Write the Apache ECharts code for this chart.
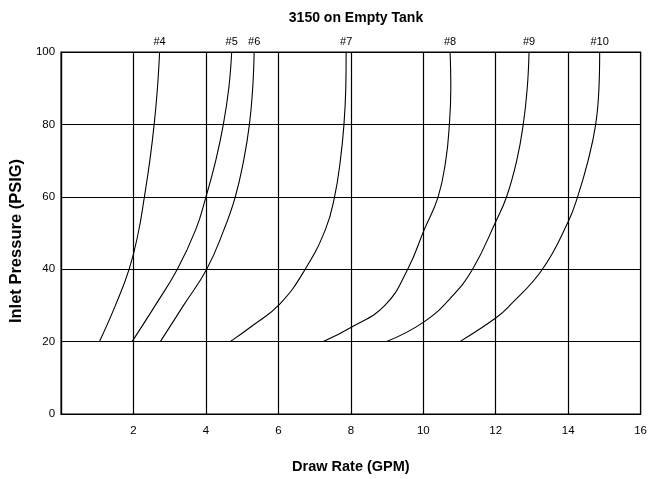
<!DOCTYPE html>
<html>
<head>
<meta charset="utf-8">
<script src="https://cdn.jsdelivr.net/npm/echarts@6/dist/echarts.min.js"></script>
<style>html,body{margin:0;padding:0;background:#fff;}#c{width:650px;height:479px;}</style>
</head>
<body>
<div id="c"></div>
<script>
const title = '3150 on Empty Tank';
const xName = 'Draw Rate (GPM)';
const yName = 'Inlet Pressure (PSIG)';
const seriesNames = ['#4', '#5', '#6', '#7', '#8', '#9', '#10'];
// [draw rate GPM, inlet pressure PSIG]
const curve4 = [[1.06,20],[1.50,30],[1.88,40],[2.13,50],[2.30,60],[2.45,70],[2.57,80],[2.66,90],[2.72,100]];
const curve5 = [[1.96,20],[2.60,30],[3.21,40],[3.72,51],[4.00,60],[4.27,70],[4.48,80],[4.63,90],[4.71,100]];
const curve6 = [[2.74,20],[3.38,30],[4.02,40],[4.50,51],[4.81,60],[5.04,70],[5.20,80],[5.29,90],[5.33,100]];
const curve7 = [[4.67,20],[5.30,24.5],[6.05,30.5],[6.74,40],[7.30,51],[7.55,60],[7.71,70],[7.81,80],[7.86,90],[7.87,100]];
const curve8 = [[7.24,20],[8.00,23.9],[8.94,30],[9.57,40],[10.03,51],[10.41,60],[10.62,70],[10.72,80],[10.76,90],[10.74,100]];
const curve9 = [[8.99,20],[10.00,25.3],[10.74,31.9],[11.36,40],[12.00,53.1],[12.30,60],[12.58,70],[12.76,80],[12.87,90],[12.92,100]];
const curve10 = [[11.01,20],[12.00,26.5],[12.39,30],[13.29,40],[14.00,53.1],[14.26,60],[14.55,70],[14.76,80],[14.85,90],[14.87,100]];
const curves = [curve4, curve5, curve6, curve7, curve8, curve9, curve10];
const xTicks = [0, 2, 4, 6, 8, 10, 12, 14, 16];
const yTicks = [0, 20, 40, 60, 80, 100];

const font = 'Liberation Sans, Arial, sans-serif';
const chart = echarts.init(document.getElementById('c'), null, {renderer: 'canvas'});
const series = curves.map((pts, i) => ({
  type: 'line',
  name: seriesNames[i],
  smooth: 0.45,
  symbol: 'circle',
  symbolSize: 0,
  showSymbol: true,
  itemStyle: {color: '#000'},
  lineStyle: {color: '#000', width: 1.1},
  label: {show: false},
  data: pts.map((p, j) => j === pts.length - 1
    ? {value: p, label: {show: true, position: 'top', distance: 5, formatter: seriesNames[i],
        color: '#000', fontSize: 11, fontFamily: font}}
    : {value: p}),
  z: 3
}));
chart.setOption({
  animation: false,
  backgroundColor: '#fff',
  title: {text: title, left: 351, textAlign: 'center', top: 6,
    textStyle: {fontSize: 14, fontWeight: 'bold', color: '#000', fontFamily: font}},
  grid: {left: 61, right: 9, top: 52, bottom: 59, show: true, borderColor: '#000', borderWidth: 1.2},
  xAxis: {
    type: 'value', min: xTicks[0], max: xTicks[xTicks.length - 1], interval: 2,
    name: xName, nameLocation: 'middle', nameGap: 45,
    nameTextStyle: {fontSize: 14.5, fontWeight: 'bold', color: '#000', fontFamily: font},
    axisLine: {show: true, lineStyle: {color: '#000', width: 1.2}},
    axisTick: {show: false},
    axisLabel: {showMinLabel: false, color: '#000', fontSize: 11.5, margin: 11, fontFamily: font},
    splitLine: {show: true, lineStyle: {color: '#000', width: 1.2}}
  },
  yAxis: {
    type: 'value', min: yTicks[0], max: yTicks[yTicks.length - 1], interval: 20,
    name: yName, nameLocation: 'middle', nameGap: 33,
    nameTextStyle: {fontSize: 16.5, fontWeight: 'bold', color: '#000', fontFamily: font, padding: [0, 16, 0, 0]},
    axisLine: {show: true, lineStyle: {color: '#000', width: 1.2}},
    axisTick: {show: false},
    axisLabel: {color: '#000', fontSize: 11.5, margin: 6, padding: [16, 0, 0, 0], fontFamily: font},
    splitLine: {show: true, lineStyle: {color: '#000', width: 1.2}}
  },
  series: series
});
</script>
</body>
</html>
